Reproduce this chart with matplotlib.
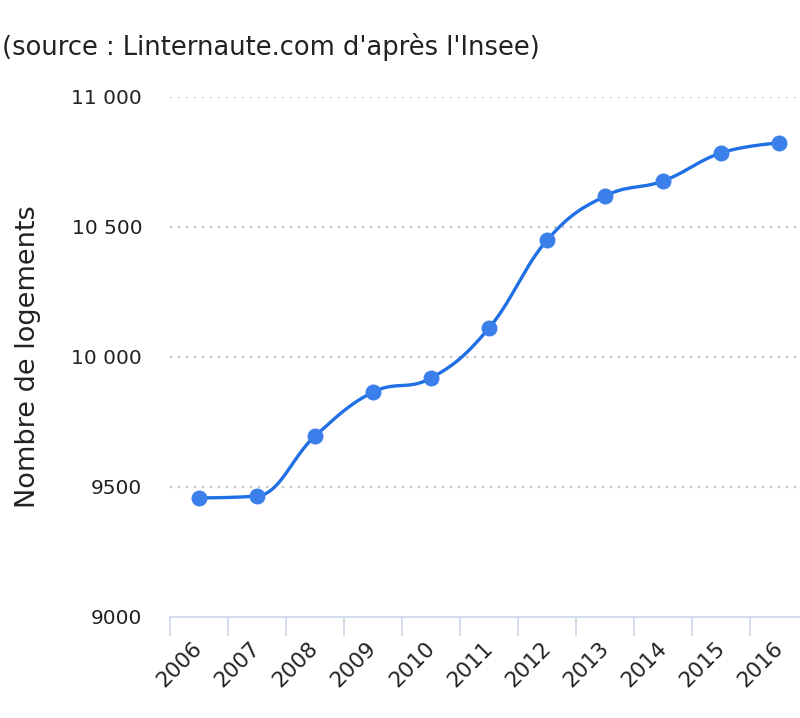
import numpy as np
import matplotlib
matplotlib.use("Agg")
import matplotlib.pyplot as plt
from matplotlib import transforms

years = ["2006", "2007", "2008", "2009", "2010", "2011", "2012", "2013", "2014", "2015", "2016"]
logements = [9458, 9465, 9696, 9865, 9919, 10112, 10450, 10619, 10677, 10785, 10823]
yticks = [9000, 9500, 10000, 10500, 11000]
ytick_labels = ["9000", "9500", "10 000", "10 500", "11 000"]

plt.rcParams["font.family"] = ["DejaVu Sans"]


def spline_path(xs, ys, smoothing=1.5):
    # bezier spline close to the Highcharts "spline" series
    n = len(xs)
    left = [(xs[i], ys[i]) for i in range(n)]
    right = [(xs[i], ys[i]) for i in range(n)]
    d = smoothing + 1
    for i in range(1, n - 1):
        lx = (smoothing * xs[i] + xs[i - 1]) / d
        ly = (smoothing * ys[i] + ys[i - 1]) / d
        rx = (smoothing * xs[i] + xs[i + 1]) / d
        ry = (smoothing * ys[i] + ys[i + 1]) / d
        corr = ((ry - ly) * (rx - xs[i])) / (rx - lx) + ys[i] - ry
        ly += corr
        ry += corr
        if ly > ys[i - 1] and ly > ys[i]:
            ly = max(ys[i - 1], ys[i]); ry = 2 * ys[i] - ly
        elif ly < ys[i - 1] and ly < ys[i]:
            ly = min(ys[i - 1], ys[i]); ry = 2 * ys[i] - ly
        if ry > ys[i + 1] and ry > ys[i]:
            ry = max(ys[i + 1], ys[i]); ly = 2 * ys[i] - ry
        elif ry < ys[i + 1] and ry < ys[i]:
            ry = min(ys[i + 1], ys[i]); ly = 2 * ys[i] - ry
        left[i] = (lx, ly)
        right[i] = (rx, ry)
    t = np.linspace(0, 1, 40)[:, None]
    pts = []
    for i in range(1, n):
        p0 = np.array([xs[i - 1], ys[i - 1]])
        p1 = np.array(right[i - 1])
        p2 = np.array(left[i])
        p3 = np.array([xs[i], ys[i]])
        seg = ((1 - t) ** 3) * p0 + 3 * ((1 - t) ** 2) * t * p1 + 3 * (1 - t) * t ** 2 * p2 + t ** 3 * p3
        pts.append(seg)
    pts = np.vstack(pts)
    return pts[:, 0], pts[:, 1]


fig = plt.figure(figsize=(8, 7.18), dpi=100)
ax = fig.add_axes([0.2125, 0.1407, 0.798, 0.7243])

x = np.arange(len(years))
sx, sy = spline_path(list(x.astype(float)), list(map(float, logements)))
ax.plot(sx, sy, color="#1f6fe5", lw=2.4, zorder=3, solid_capstyle="round")
ax.plot(x, logements, "o", color="#3b80ea", ms=10.5, zorder=4)

ax.set_xlim(-0.5, len(years) - 0.5)
ax.set_ylim(9000, 11000)

ax.set_yticks(yticks)
ax.set_yticklabels(ytick_labels, fontsize=14.5, color="#222222")
ax.tick_params(axis="y", length=0, pad=20)
for yv in yticks[1:]:
    ax.axhline(yv, color="#c4c4c4", lw=1.6, ls=(0, (1, 2.6)), zorder=1)

ax.set_xticks(np.arange(len(years) + 1) - 0.5)
ax.set_xticklabels([])
ax.tick_params(axis="x", length=14, width=1.2, color="#ccd6eb")
ax.set_xticks(x, minor=True)
ax.set_xticklabels(years, minor=True, rotation=45, ha="right", va="top",
                   rotation_mode="anchor", fontsize=15.5, color="#222222")
ax.tick_params(axis="x", which="minor", length=0, pad=0)
off = transforms.ScaledTranslation(-5 / 72, -15 / 72, fig.dpi_scale_trans)
for lab in ax.get_xticklabels(minor=True):
    lab.set_transform(lab.get_transform() + off)

for s in ["top", "right", "left"]:
    ax.spines[s].set_visible(False)
ax.spines["bottom"].set_color("#ccd6eb")
ax.spines["bottom"].set_linewidth(1.2)

ax.set_ylabel("Nombre de logements", fontsize=19.5, color="#222222")
ax.yaxis.set_label_coords(-0.202, 0.5)

fig.text(0.002, 0.935, "(source : Linternaute.com d'après l'Insee)", fontsize=18.5,
         color="#222222", ha="left", va="center")

fig.savefig("out.png", dpi=100)
